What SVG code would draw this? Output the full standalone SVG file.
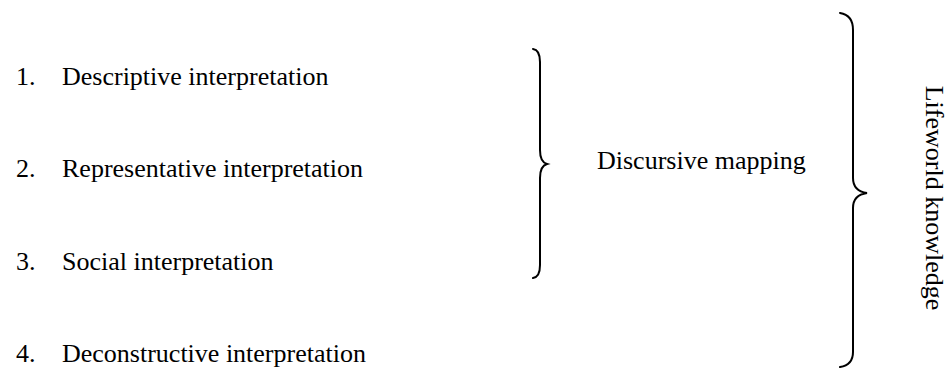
<svg xmlns="http://www.w3.org/2000/svg" width="948" height="370" viewBox="0 0 948 370">
<style>
text{font-family:"Liberation Serif","Times New Roman",serif;font-size:26px;fill:#000}
.brace{fill:none;stroke:#000;stroke-width:2;stroke-linecap:round}
</style>
<rect width="948" height="370" fill="#fff"/>
<g id="item1"><text x="16" y="85">1.</text><text x="62" y="85">Descriptive interpretation</text></g>
<g id="item2"><text x="16" y="177">2.</text><text x="62" y="177">Representative interpretation</text></g>
<g id="item3"><text x="16" y="270">3.</text><text x="62" y="270">Social interpretation</text></g>
<g id="item4"><text x="16" y="362">4.</text><text x="62" y="362">Deconstructive interpretation</text></g>
<g id="connectors">
<path class="brace" d="M533,49 Q540,50 540,62 L540,150 Q540,162 547,164 Q540,166 540,178 L540,265 Q540,277 533,278"/>
<path class="brace" d="M840,13 Q853,15 853,30 L853,178 Q853,191 867,193 Q853,195 853,208 L853,352 Q853,365 840,367"/>
</g>
<g id="discursive"><text x="597" y="169">Discursive mapping</text></g>
<g id="lifeworld"><text transform="translate(926,198) rotate(90)" text-anchor="middle">Lifeworld knowledge</text></g>
</svg>
